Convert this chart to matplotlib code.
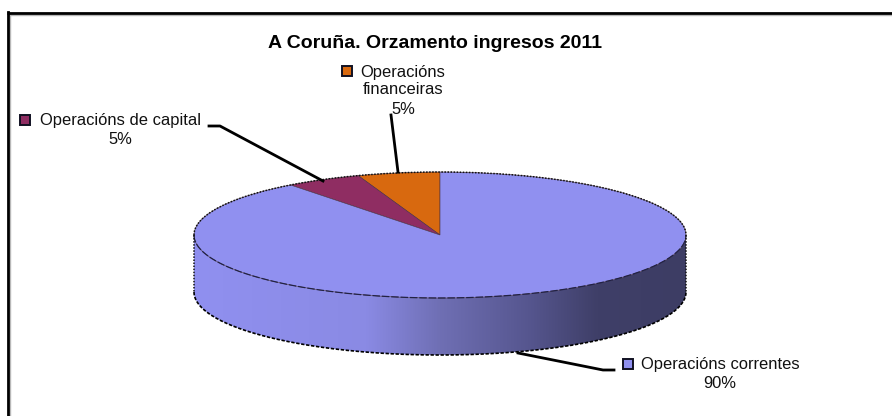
import numpy as np
import matplotlib
matplotlib.use("Agg")
import matplotlib.pyplot as plt
from matplotlib.colors import LinearSegmentedColormap
from matplotlib.patches import PathPatch
from matplotlib.path import Path

plt.rcParams['font.family'] = ['Liberation Sans', 'DejaVu Sans']

# datos del grafico (orden: desde las 12 en sentido antihorario)
categorias = ["Operacións\nfinanceiras", "Operacións de capital", "Operacións correntes"]
valores = [5.4, 5.0, 89.6]
etiquetas_pct = ["5%", "5%", "90%"]
colores = ["#d8690f", "#8f2d62", "#9090f0"]
titulo = "A Coruña. Orzamento ingresos 2011"

W, H = 892, 416
cx, cy, rx, ry = 440, 235, 246, 63  # elipse de arriba en pixeles
fondo = 57  # alto del lateral

fig = plt.figure(figsize=(W / 100, H / 100), dpi=100)
ax = fig.add_axes([0, 0, 1, 1])
ax.set_xlim(0, W)
ax.set_ylim(H, 0)
ax.axis("off")

# marco: solo arriba y a la izquierda
ax.plot([9.5, 9.5], [H, 13], color="#b8b8b8", lw=1, solid_capstyle="butt", zorder=1)
ax.plot([8, W], [14.5, 14.5], color="#b8b8b8", lw=1, solid_capstyle="butt", zorder=1)
ax.plot([7.5, 7.5], [H, 12], color="black", lw=2, solid_capstyle="projecting", zorder=2)
ax.plot([7, W], [12.5, 12.5], color="black", lw=2, solid_capstyle="butt", zorder=2)

# lateral con degradado
t = np.linspace(0, np.pi, 200)
x_arr = cx - rx * np.cos(t)
y_arr = cy + ry * np.sin(t)
x_lat = np.r_[x_arr, x_arr[::-1]]
y_lat = np.r_[y_arr + fondo, y_arr[::-1]]
cmap = LinearSegmentedColormap.from_list("lateral", [
    (0.0, "#9090f0"), (0.35, "#8a8ae4"), (0.5, "#6f6fb4"),
    (0.68, "#56568f"), (0.82, "#3f3f68"), (1.0, "#3d3d64")])
img = ax.imshow(np.linspace(0, 1, 256)[None, :], cmap=cmap, aspect="auto",
                extent=[cx - rx, cx + rx, cy + ry + fondo, cy], zorder=3)
ax.set_xlim(0, W)
ax.set_ylim(H, 0)
img.set_clip_path(PathPatch(Path(np.c_[x_lat, y_lat]), transform=ax.transData))

# cara superior: tarta normal estirada a la elipse
ax_tarta = fig.add_axes([(cx - rx) / W, 1 - (cy + ry) / H, 2 * rx / W, 2 * ry / H])
ax_tarta.patch.set_alpha(0)
ax_tarta.pie(valores, colors=colores, startangle=90, counterclock=True, radius=1,
             wedgeprops=dict(edgecolor="#4a3040", linewidth=0.4))
ax_tarta.set_aspect("auto")
ax_tarta.set_xlim(-1, 1)
ax_tarta.set_ylim(-1, 1)
ax_tarta.axis("off")

# bordes punteados
ax2 = fig.add_axes([0, 0, 1, 1])
ax2.set_xlim(0, W)
ax2.set_ylim(H, 0)
ax2.axis("off")
ax2.patch.set_alpha(0)
t2 = np.linspace(np.pi, 2 * np.pi, 300)
ax2.plot(cx + rx * np.cos(t2), cy + ry * np.sin(t2), color="#111111", lw=1.1, ls=(0, (1, 1)))
ax2.plot(x_arr, y_arr, color="#222244", lw=0.9, ls=(0, (6, 1.5)))
ax2.plot(x_arr, y_arr + fondo, color="black", lw=1.2, ls=(0, (2, 1)))
ax2.plot([cx - rx, cx - rx], [cy, cy + fondo], color="#111111", lw=1.1, ls=(0, (1, 1)))
ax2.plot([cx + rx, cx + rx], [cy, cy + fondo], color="#111111", lw=1.1, ls=(0, (1, 1)))

# lineas guia
ax2.plot([391, 398], [115, 172], color="black", lw=2)
ax2.plot([209, 220, 323], [126, 126, 181], color="black", lw=2)
ax2.plot([518, 603, 614], [353, 370, 370], color="black", lw=2)

# textos
fs = 11.9
ax2.text(434.5, 43, titulo, ha="center", va="center", fontsize=14, fontweight="bold", color="black")
ax2.text(403, 81, categorias[0], ha="center", va="center", fontsize=fs, color="#111111", linespacing=1.12)
ax2.text(403, 110, etiquetas_pct[0], ha="center", va="center", fontsize=fs, color="#111111")
ax2.text(120, 120, categorias[1], ha="center", va="center", fontsize=fs, color="#111111")
ax2.text(120, 139, etiquetas_pct[1], ha="center", va="center", fontsize=fs, color="#111111")
ax2.text(720, 365, categorias[2], ha="center", va="center", fontsize=fs, color="#111111")
ax2.text(720, 383, etiquetas_pct[2], ha="center", va="center", fontsize=fs, color="#111111")

# cuadritos de leyenda
for (mx, my), col in zip([(346.5, 71), (25, 120), (628, 364)], colores):
    ax2.plot(mx, my, marker="s", ms=6.5, mfc=col, mec="#111122", mew=1.4)

fig.savefig("out.png", dpi=100)
